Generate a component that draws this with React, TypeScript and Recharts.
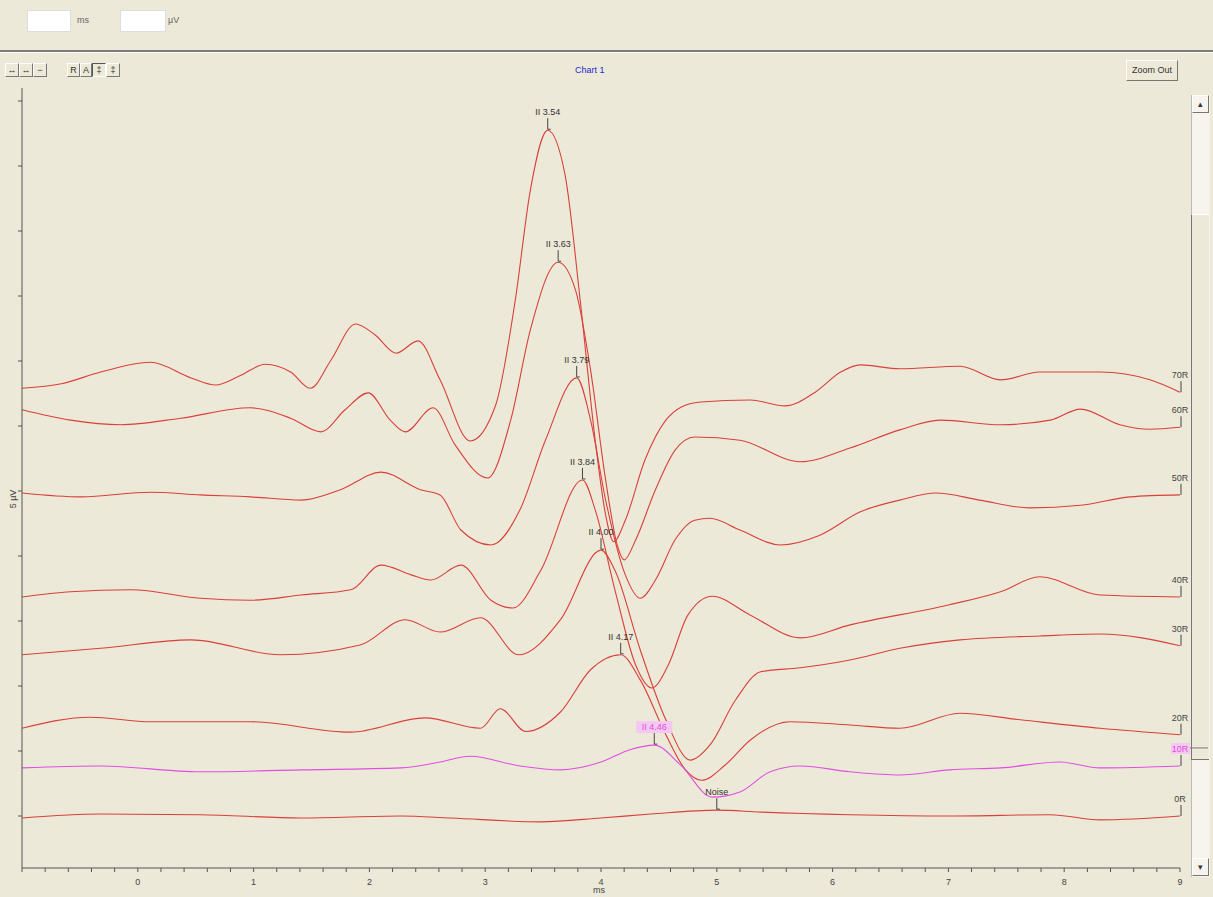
import React from "react";
import { LineChart, Line, XAxis, YAxis } from "recharts";

type Pt = [number, number];

// stacked ABR traces, x = latency (ms), y = offset amplitude
const traceNames = ["70R", "60R", "50R", "40R", "30R", "20R", "10R", "0R"];
const peakLatency = [3.54, 3.63, 3.79, 3.84, 4.0, 4.17, 4.46, 5.0];
const peakText = ["II 3.54", "II 3.63", "II 3.79", "II 3.84", "II 4.00", "II 4.17", "II 4.46", "Noise"];

const trace70: Pt[] = [
  [-1, 6.58], [-0.66, 6.65], [-0.32, 6.83], [0.11, 6.98], [0.46, 6.74], [0.67, 6.63], [0.89, 6.78],
  [1.1, 6.95], [1.32, 6.83], [1.49, 6.58], [1.67, 7.02], [1.88, 7.57], [2.05, 7.4], [2.23, 7.12],
  [2.42, 7.31], [2.61, 6.71], [2.87, 5.77], [3.09, 6.32], [3.26, 7.94], [3.39, 9.63], [3.54, 10.55],
  [3.69, 9.86], [3.82, 7.94], [3.95, 5.78], [4.04, 4.63], [4.11, 4.22], [4.21, 4.55], [4.38, 5.48],
  [4.56, 6.09], [4.69, 6.29], [4.86, 6.37], [5.29, 6.4], [5.59, 6.31], [5.85, 6.52], [6.07, 6.83],
  [6.24, 6.94], [6.58, 6.88], [7.1, 6.92], [7.45, 6.71], [7.79, 6.83], [8.31, 6.83], [8.74, 6.71],
  [9.0, 6.52],
];
const trace60: Pt[] = [
  [-1, 6.25], [-0.58, 6.09], [-0.15, 6.02], [0.37, 6.12], [0.97, 6.28], [1.32, 6.12], [1.58, 5.91],
  [1.79, 6.25], [1.99, 6.51], [2.18, 6.09], [2.31, 5.91], [2.55, 6.28], [2.74, 5.71], [3.02, 5.2],
  [3.22, 6.09], [3.39, 7.48], [3.63, 8.52], [3.78, 8.09], [3.91, 6.86], [4.04, 5.17], [4.14, 4.17],
  [4.2, 3.94], [4.3, 4.25], [4.47, 5.02], [4.64, 5.63], [4.81, 5.83], [5.2, 5.78], [5.72, 5.45],
  [6.15, 5.66], [6.58, 5.94], [6.93, 6.09], [7.45, 6.02], [7.88, 6.09], [8.14, 6.26], [8.48, 6.02],
  [8.74, 5.95], [9.0, 5.98],
];
const trace50: Pt[] = [
  [-1, 4.97], [-0.49, 4.91], [0.11, 4.98], [0.54, 4.94], [0.97, 4.91], [1.41, 4.86], [1.75, 5.02],
  [2.1, 5.29], [2.44, 5.02], [2.61, 4.94], [2.79, 4.4], [3.05, 4.17], [3.3, 4.71], [3.52, 5.78],
  [3.79, 6.74], [3.91, 6.09], [4.04, 4.86], [4.21, 3.71], [4.34, 3.35], [4.47, 3.63], [4.64, 4.25],
  [4.81, 4.55], [4.94, 4.58], [5.2, 4.4], [5.55, 4.17], [5.89, 4.32], [6.24, 4.68], [6.58, 4.86],
  [6.89, 4.97], [7.27, 4.86], [7.7, 4.74], [8.14, 4.78], [8.57, 4.91], [9.0, 4.94],
];
const trace40: Pt[] = [
  [-1, 3.37], [-0.58, 3.45], [-0.06, 3.48], [0.54, 3.35], [0.97, 3.32], [1.41, 3.4], [1.84, 3.48],
  [2.1, 3.86], [2.36, 3.71], [2.53, 3.63], [2.79, 3.86], [3.05, 3.32], [3.24, 3.2], [3.48, 3.78],
  [3.84, 5.17], [3.95, 4.71], [4.12, 3.48], [4.3, 2.32], [4.44, 1.97], [4.58, 2.32], [4.75, 3.09],
  [4.96, 3.38], [5.29, 3.09], [5.72, 2.74], [6.15, 2.94], [7.01, 3.25], [7.45, 3.45], [7.79, 3.68],
  [8.31, 3.4], [9.0, 3.37],
];
const trace30: Pt[] = [
  [-1, 2.48], [-0.32, 2.58], [0.46, 2.71], [1.23, 2.48], [1.92, 2.63], [2.31, 3.02], [2.61, 2.83],
  [2.96, 3.05], [3.29, 2.48], [3.65, 3.02], [4.0, 4.09], [4.12, 3.78], [4.34, 2.55], [4.56, 1.48],
  [4.77, 0.86], [4.94, 1.09], [5.16, 1.78], [5.38, 2.22], [5.72, 2.28], [6.15, 2.4], [6.58, 2.58],
  [7.1, 2.71], [7.79, 2.77], [8.31, 2.8], [9.0, 2.62],
];
const trace20: Pt[] = [
  [-1, 1.35], [-0.41, 1.52], [0.11, 1.45], [0.97, 1.45], [1.84, 1.29], [2.48, 1.51], [2.96, 1.35],
  [3.13, 1.65], [3.35, 1.3], [3.65, 1.6], [3.91, 2.25], [4.17, 2.48], [4.34, 2.09], [4.56, 1.25],
  [4.73, 0.71], [4.87, 0.55], [5.07, 0.78], [5.29, 1.17], [5.63, 1.45], [6.15, 1.4], [6.58, 1.35],
  [7.1, 1.58], [7.62, 1.48], [8.31, 1.35], [9.0, 1.25],
];
const trace10: Pt[] = [
  [-1, 0.74], [-0.32, 0.77], [0.54, 0.68], [1.41, 0.71], [2.27, 0.74], [2.61, 0.83], [2.87, 0.92],
  [3.3, 0.77], [3.65, 0.71], [4.0, 0.83], [4.25, 1.02], [4.46, 1.09], [4.69, 0.78], [4.96, 0.29],
  [5.2, 0.37], [5.46, 0.68], [5.72, 0.77], [6.15, 0.68], [6.58, 0.63], [7.01, 0.71], [7.45, 0.74],
  [7.96, 0.83], [8.31, 0.74], [9.0, 0.77],
];
const trace0: Pt[] = [
  [-1, -0.03], [-0.32, 0.03], [0.54, 0.02], [1.41, -0.03], [2.27, 0.0], [2.7, -0.03], [3.48, -0.09],
  [4.0, -0.03], [4.43, 0.03], [5.0, 0.09], [5.38, 0.06], [6.15, 0.02], [7.01, 0.0], [7.88, 0.02],
  [8.31, -0.06], [9.0, 0.0],
];

const traces = [trace70, trace60, trace50, trace40, trace30, trace20, trace10, trace0];
const selectedTrace = 6;

const xMajor = [0, 1, 2, 3, 4, 5, 6, 7, 8, 9];
const xTicks = Array.from({ length: 51 }, (_, i) => Math.round((-1 + i * 0.2) * 10) / 10);
const yTicks = [0, 1, 2, 3, 4, 5, 6, 7, 8, 9, 10, 11];

const RED = "#D9403A";
const PINK = "#E04FE0";
const FONT = "'Liberation Sans', Arial, sans-serif";

function XTick({ x, y, payload }: any) {
  const v = payload.value;
  if (!xMajor.includes(v)) return <g />;
  return (
    <text x={x} y={y} dy={11} textAnchor="middle" fontSize={9} fill="#444" fontFamily={FONT}>
      {v}
    </text>
  );
}

function NoTick() {
  return <g />;
}

const makeDot = (t: number) => (p: any) => {
  const { cx, cy, index, payload } = p;
  const key = `m${t}-${index}`;
  const pts = traces[t];
  const sel = t === selectedTrace;
  if (index === pts.length - 1) {
    return (
      <g key={key}>
        {sel && <rect x={cx - 9} y={cy - 23} width={19} height={11} fill="#F4C8F0" />}
        <text x={cx} y={cy - 14} textAnchor="middle" fontSize={9} fill={sel ? PINK : "#444"} fontFamily={FONT}>
          {traceNames[t]}
        </text>
        <line x1={cx + 1} x2={cx + 1} y1={cy - 11} y2={cy} stroke="#444" />
        {sel && <line x1={cx + 10} x2={cx + 28} y1={cy - 18} y2={cy - 18} stroke="#777" />}
      </g>
    );
  }
  if (Math.abs(payload.x - peakLatency[t]) < 1e-6) {
    return (
      <g key={key}>
        {sel && <rect x={cx - 18} y={cy - 24} width={36} height={12} fill="#F4C8F0" />}
        <text x={cx} y={cy - 15} textAnchor="middle" fontSize={9} fill={sel ? PINK : "#333"} fontFamily={FONT}>
          {peakText[t]}
        </text>
        <line x1={cx} x2={cx} y1={cy - 12} y2={cy - 1} stroke="#444" />
        <line x1={cx} x2={cx + 3} y1={cy - 1} y2={cy - 1} stroke="#444" />
      </g>
    );
  }
  return <g key={key} />;
};

function Btn({ left, top, w, h, children, pressed }: any) {
  return (
    <div
      style={{
        position: "absolute", left, top, width: w, height: h, boxSizing: "border-box",
        borderTop: `1px solid ${pressed ? "#555" : "#fff"}`, borderLeft: `1px solid ${pressed ? "#555" : "#fff"}`,
        borderRight: `1px solid ${pressed ? "#fff" : "#777"}`, borderBottom: `1px solid ${pressed ? "#fff" : "#777"}`,
        fontSize: 9, lineHeight: `${h - 2}px`, textAlign: "center", color: "#333", fontFamily: FONT,
      }}
    >
      {children}
    </div>
  );
}

export default function App() {
  return (
    <div style={{ position: "fixed", left: 0, top: 0, width: 1213, height: 897, background: "#ECE9D8", overflow: "hidden", fontFamily: FONT }}>
      {/* top cursor readout */}
      <div style={{ position: "absolute", left: 27, top: 10, width: 44, height: 22, background: "#fff", border: "1px solid #ddd", boxSizing: "border-box" }} />
      <div style={{ position: "absolute", left: 77, top: 15, fontSize: 9, color: "#666" }}>ms</div>
      <div style={{ position: "absolute", left: 120, top: 10, width: 46, height: 22, background: "#fff", border: "1px solid #ddd", boxSizing: "border-box" }} />
      <div style={{ position: "absolute", left: 168, top: 15, fontSize: 9, color: "#666" }}>µV</div>
      <div style={{ position: "absolute", left: 0, top: 50, width: 1213, height: 2, background: "#7c7c7c" }} />
      <div style={{ position: "absolute", left: 0, top: 52, width: 1213, height: 1, background: "#fff" }} />

      {/* toolbar */}
      <Btn left={5} top={63} w={14} h={14}>↔</Btn>
      <Btn left={19} top={63} w={14} h={14}>↔</Btn>
      <Btn left={33} top={63} w={14} h={14}>−</Btn>
      <Btn left={67} top={63} w={13} h={14}>R</Btn>
      <Btn left={80} top={63} w={12} h={14}>A</Btn>
      <Btn left={92} top={63} w={14} h={14} pressed>‡</Btn>
      <Btn left={106} top={63} w={14} h={14}>‡</Btn>
      <div style={{ position: "absolute", left: 575, top: 65, fontSize: 9, color: "#2828C8" }}>Chart 1</div>
      <Btn left={1126} top={60} w={52} h={21}>Zoom Out</Btn>

      {/* scrollbar */}
      <div style={{ position: "absolute", left: 1191, top: 95, width: 18, height: 782, background: "#F6F4EC", borderLeft: "1px solid #bbb" }} />
      <div style={{ position: "absolute", left: 1191, top: 214, width: 18, height: 546, background: "#ECE9D8", borderLeft: "1px solid #777", borderTop: "1px solid #fff", borderBottom: "1px solid #777", boxSizing: "border-box" }} />
      <Btn left={1192} top={95} w={17} h={18}>▴</Btn>
      <Btn left={1192} top={858} w={17} h={18}>▾</Btn>

      <div style={{ position: "absolute", left: -5, top: 494, fontSize: 9, color: "#444", transform: "rotate(-90deg)", width: 36, textAlign: "center" }}>5 µV</div>
      <div style={{ position: "absolute", left: 593, top: 885, fontSize: 9, lineHeight: "10px", color: "#444" }}>ms</div>

      <div style={{ position: "absolute", left: 0, top: 0 }}>
        <LineChart width={1213} height={897} margin={{ top: 88, right: 33, bottom: 0, left: 12 }}>
          <XAxis
            type="number"
            dataKey="x"
            domain={[-1, 9]}
            ticks={xTicks}
            interval={0}
            height={29}
            tick={<XTick />}
            tickSize={4}
            axisLine={{ stroke: "#555" }}
            tickLine={{ stroke: "#555" }}
          />
          <YAxis
            type="number"
            domain={[-0.8, 11.2]}
            ticks={yTicks}
            interval={0}
            width={10}
            tick={<NoTick />}
            tickSize={4}
            axisLine={{ stroke: "#555" }}
            tickLine={{ stroke: "#555" }}
          />
          {traces.map((pts, t) => (
            <Line
              key={traceNames[t]}
              data={pts.map(([x, y]) => ({ x, y }))}
              dataKey="y"
              type="monotone"
              stroke={t === selectedTrace ? PINK : RED}
              strokeWidth={1.1}
              dot={makeDot(t)}
              activeDot={false}
              isAnimationActive={false}
            />
          ))}
        </LineChart>
      </div>
    </div>
  );
}
